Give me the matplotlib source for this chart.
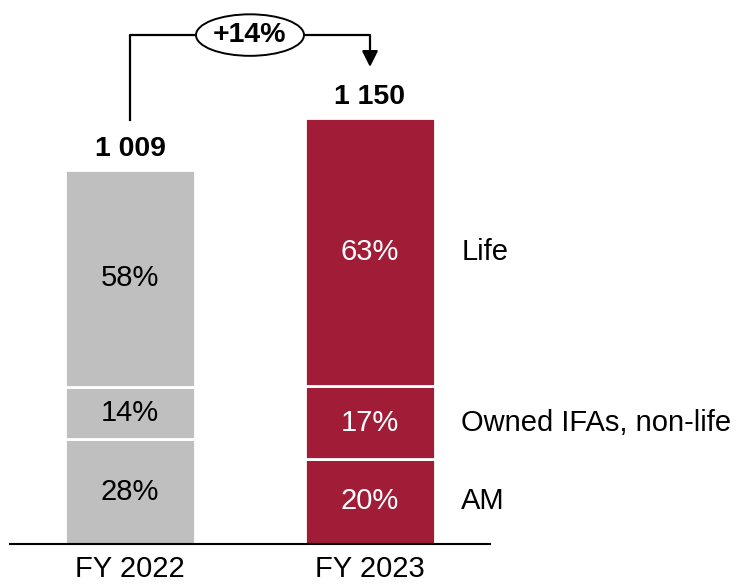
import matplotlib.pyplot as plt
from matplotlib.patches import Ellipse

# Data
years = ["FY 2022", "FY 2023"]
totals = [1009, 1150]
segments = ["AM", "Owned IFAs, non-life", "Life"]
shares_2022 = [28, 14, 58]
shares_2023 = [20, 17, 63]
growth_label = "+14%"
total_labels = ["1 009", "1 150"]

plt.rcParams['font.family'] = ['Liberation Sans', 'DejaVu Sans']

GREY = '#BFBFBF'
RED = '#A01C37'

fig = plt.figure(figsize=(7.38, 5.84), dpi=100)
ax = fig.add_axes([10 / 738, 40 / 584, 480 / 738, 544 / 584])

shares = [shares_2022, shares_2023]
colors = [GREY, RED]
text_colors = ['black', 'white']

for i, (tot, sh) in enumerate(zip(totals, shares)):
    bottom = 0
    for j, pct in enumerate(sh):
        h = tot * pct / 100
        ax.bar(i, h, bottom=bottom, width=0.545, color=colors[i],
               edgecolor='white', linewidth=2, zorder=2)
        ax.text(i, bottom + h / 2, f"{pct}%", ha='center', va='center',
                fontsize=21, color=text_colors[i], zorder=3)
        if i == 1:
            ax.text(i + 0.38, bottom + h / 2, segments[j], ha='left',
                    va='center', fontsize=21, color='black', clip_on=False)
        bottom += h
    ax.text(i, tot + 22, total_labels[i], ha='center', va='bottom',
            fontsize=20.5, fontweight='bold')

# Growth connector
y_top = max(totals) + 223
ax.plot([0, 0, 1, 1], [totals[0] + 135, y_top, y_top, totals[1] + 160],
        color='black', linewidth=1.6, zorder=4, clip_on=False)
ax.annotate('', xy=(1, totals[1] + 137), xytext=(1, totals[1] + 170),
            arrowprops=dict(arrowstyle='-|>', color='black', lw=1.6,
                            mutation_scale=24, shrinkA=0, shrinkB=0),
            zorder=5, annotation_clip=False)
ax.add_patch(Ellipse((0.5, y_top), 0.45, 112, facecolor='white',
                     edgecolor='black', linewidth=1.4, zorder=5, clip_on=False))
ax.text(0.5, y_top, growth_label, ha='center', va='center', fontsize=20.5,
        fontweight='bold', zorder=6)

ax.set_xlim(-0.5, 1.5)
ax.set_ylim(0, 544 / (374 / 1009))
ax.set_xticks([0, 1])
ax.set_xticklabels(years, fontsize=21)
ax.tick_params(axis='x', length=0, pad=8)
ax.set_yticks([])
for s in ['top', 'right', 'left']:
    ax.spines[s].set_visible(False)
ax.spines['bottom'].set_linewidth(1.5)
ax.spines['bottom'].set_zorder(5)

fig.savefig('out.png', dpi=100)
